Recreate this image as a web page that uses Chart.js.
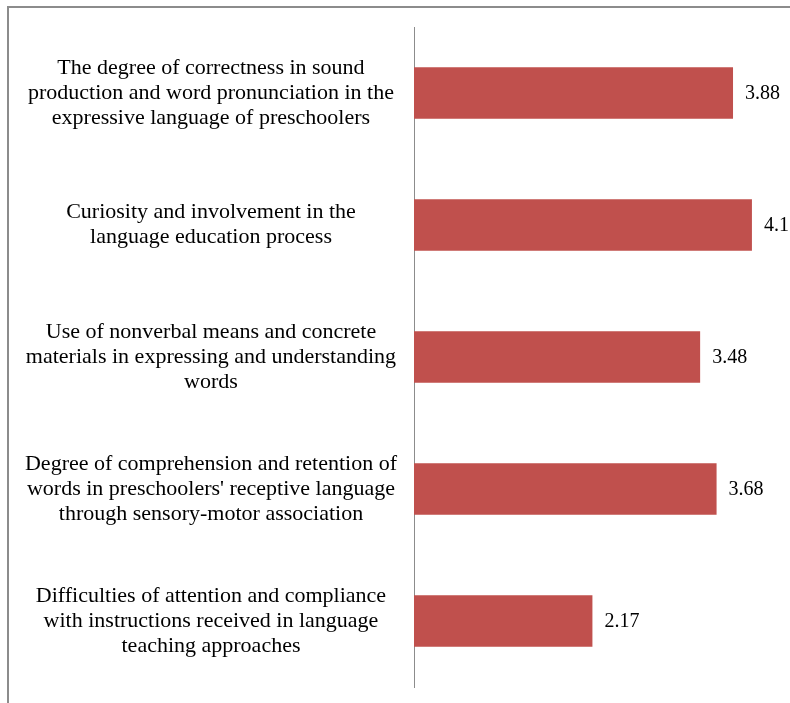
<!DOCTYPE html>
<html>
<head>
<meta charset="utf-8">
<script src="https://cdn.jsdelivr.net/npm/chart.js@4.4.0/dist/chart.umd.min.js"></script>
<style>
  html, body { margin: 0; padding: 0; background: #fff; overflow: hidden; }
  .frame { position: absolute; left: 7px; top: 6px; width: 800px; height: 720px;
           border-left: 2px solid #8c8c8c; border-top: 2px solid #8c8c8c; }
  .wrap { position: absolute; left: 0; top: 0; width: 800px; height: 703px; }
</style>
</head>
<body>
<div class="frame"></div>
<div class="wrap"><canvas id="bars" width="800" height="703"></canvas></div>
<script>
const categories = [
  ['The degree of correctness in sound', 'production and word pronunciation in the', 'expressive language of preschoolers'],
  ['Curiosity and involvement in the', 'language education process'],
  ['Use of nonverbal means and concrete', 'materials in expressing and understanding', 'words'],
  ["Degree of comprehension and retention of", "words in preschoolers' receptive language", 'through sensory-motor association'],
  ['Difficulties of attention and compliance', 'with instructions received in language', 'teaching approaches']
];
const scores = [3.88, 4.11, 3.48, 3.68, 2.17];

const serif = '"Liberation Serif", "Times New Roman", serif';

// writes the score just past the end of each bar
const valueLabels = {
  id: 'valueLabels',
  afterDatasetsDraw(chart) {
    const ctx = chart.ctx;
    const meta = chart.getDatasetMeta(0);
    ctx.save();
    ctx.font = '20px ' + serif;
    ctx.fillStyle = '#000';
    ctx.textAlign = 'left';
    ctx.textBaseline = 'middle';
    meta.data.forEach((bar, i) => {
      ctx.fillText(scores[i].toFixed(2), bar.x + 12, bar.y + 1);
    });
    ctx.restore();
  }
};

new Chart(document.getElementById('bars'), {
  type: 'bar',
  data: {
    labels: categories,
    datasets: [{
      data: scores,
      backgroundColor: '#C0504D',
      borderWidth: 0,
      barPercentage: 0.39,
      categoryPercentage: 1
    }]
  },
  options: {
    indexAxis: 'y',
    responsive: false,
    animation: false,
    devicePixelRatio: 1,
    layout: { autoPadding: false, padding: { top: 27, bottom: 16, right: 16, left: 0 } },
    plugins: { legend: { display: false }, tooltip: { enabled: false } },
    scales: {
      x: { display: false, min: 0, max: 4.5 },
      y: {
        grid: { display: false },
        border: { display: true, color: '#8c8c8c', width: 1 },
        ticks: {
          color: '#000',
          padding: 9,
          crossAlign: 'center',
          font: { family: serif, size: 22, lineHeight: 1.14 }
        },
        afterFit(scale) {
          scale.width = 414;
          // the three-line labels would otherwise shrink the axis
          scale.paddingTop = 0;
          scale.paddingBottom = 0;
        }
      }
    }
  },
  plugins: [valueLabels]
});
</script>
</body>
</html>
